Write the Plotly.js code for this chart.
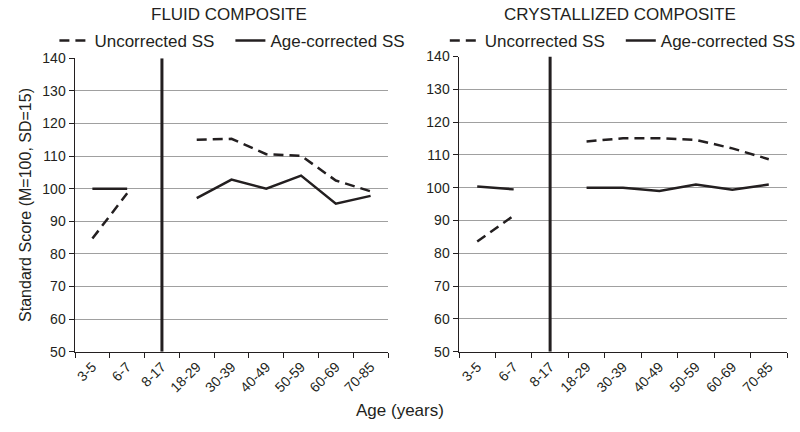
<!DOCTYPE html>
<html>
<head>
<meta charset="utf-8">
<script src="https://cdn.plot.ly/plotly-3.0.1.min.js"></script>
<style>html,body{margin:0;padding:0;background:#fff}#chart{width:800px;height:432px}</style>
</head>
<body>
<div id="chart"></div>
<script>
const ageGroups = ['3-5','6-7','8-17','18-29','30-39','40-49','50-59','60-69','70-85'];
const fluidUncorrected = [84.7, 98.6, null, 115.0, 115.3, 110.6, 110.1, 102.5, 99.2];
const fluidAgeCorrected = [100, 100, null, 97.1, 102.8, 100.0, 104.0, 95.4, 97.8];
const crystUncorrected = [83.6, 91.5, null, 114.1, 115.1, 115.1, 114.6, 112.0, 108.7];
const crystAgeCorrected = [100.4, 99.5, null, 100.0, 100.0, 99.0, 101.0, 99.4, 101.0];
const dividerCategory = '8-17';
const yRange = [50, 140];
const panelTitles = ['FLUID COMPOSITE', 'CRYSTALLIZED COMPOSITE'];
const seriesNames = ['Uncorrected SS', 'Age-corrected SS'];

const FONT = 'Liberation Sans, Arial, sans-serif';
const INK = '#231f20';
const dashed = {color: INK, width: 2.5, dash: '10px,6px'};
const solid = {color: INK, width: 2.5};

function panelTraces(unc, cor, xa, ya, leg) {
  return [
    {x: ageGroups, y: unc, xaxis: xa, yaxis: ya, mode: 'lines', name: seriesNames[0], line: dashed, connectgaps: false, legend: leg},
    {x: ageGroups, y: cor, xaxis: xa, yaxis: ya, mode: 'lines', name: seriesNames[1], line: solid, connectgaps: false, legend: leg},
    {x: [dividerCategory, dividerCategory], y: yRange, xaxis: xa, yaxis: ya, mode: 'lines', line: {color: INK, width: 3}, showlegend: false, hoverinfo: 'skip'}
  ];
}

const data = [
  ...panelTraces(fluidUncorrected, fluidAgeCorrected, 'x', 'y', 'legend'),
  ...panelTraces(crystUncorrected, crystAgeCorrected, 'x2', 'y2', 'legend2')
];

const xBase = {
  type: 'category', categoryorder: 'array', categoryarray: ageGroups,
  tickson: 'boundaries', ticks: 'outside', ticklen: 5, tickcolor: INK,
  showline: true, linecolor: INK, linewidth: 1.5, showgrid: false,
  tickangle: -45, tickfont: {family: FONT, size: 14, color: INK},
  range: [-0.5, 8.5], fixedrange: true
};
const yBase = {
  range: yRange, dtick: 10, tick0: 50, ticks: 'outside', ticklen: 5, tickcolor: INK,
  showline: true, linecolor: INK, linewidth: 1.5, showgrid: true, gridcolor: '#a0a0a0', gridwidth: 1,
  zeroline: false, tickfont: {family: FONT, size: 14, color: INK}, fixedrange: true
};

const legBase = {
  orientation: 'h', xanchor: 'left', yanchor: 'middle', font: {family: FONT, size: 17, color: INK},
  itemwidth: 30, tracegroupgap: 0, bgcolor: 'rgba(0,0,0,0)', entrywidth: 131, entrywidthmode: 'pixels'
};

const layout = {
  width: 800, height: 432,
  margin: {l: 0, r: 0, t: 0, b: 0},
  paper_bgcolor: '#fff', plot_bgcolor: '#fff',
  font: {family: FONT, color: INK},
  xaxis: Object.assign({}, xBase, {domain: [75/800, 388/800], anchor: 'y'}),
  yaxis: Object.assign({}, yBase, {domain: [0.186, 0.865], anchor: 'x',
    title: {text: 'Standard Score (M=100, SD=15)', font: {family: FONT, size: 16, color: INK}, standoff: 6}}),
  xaxis2: Object.assign({}, xBase, {domain: [459/800, 787/800], anchor: 'y2'}),
  yaxis2: Object.assign({}, yBase, {domain: [0.186, 0.869], anchor: 'x2'}),
  legend: Object.assign({}, legBase, {x: 0.068, y: 0.905}),
  legend2: Object.assign({}, legBase, {x: 0.556, y: 0.905}),
  annotations: [
    {text: panelTitles[0], xref: 'paper', yref: 'paper', x: 229/800, y: 1 - 15/432, xanchor: 'center', yanchor: 'middle', showarrow: false, font: {family: FONT, size: 17, color: INK}},
    {text: panelTitles[1], xref: 'paper', yref: 'paper', x: 620/800, y: 1 - 15/432, xanchor: 'center', yanchor: 'middle', showarrow: false, font: {family: FONT, size: 17, color: INK}},
    {text: 'Age (years)', xref: 'paper', yref: 'paper', x: 400/800, y: 1 - 410/432, xanchor: 'center', yanchor: 'middle', showarrow: false, font: {family: FONT, size: 17, color: INK}}
  ],
  showlegend: true
};

Plotly.newPlot('chart', data, layout, {staticPlot: true, displayModeBar: false});
</script>
</body>
</html>
